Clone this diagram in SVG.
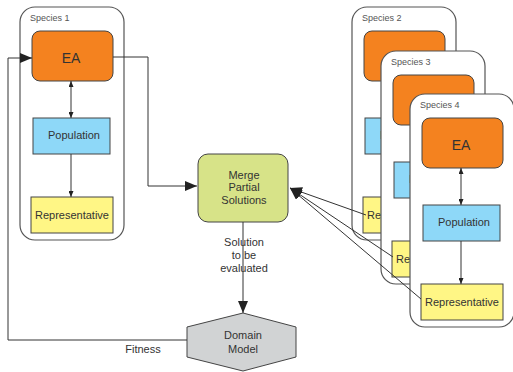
<svg xmlns="http://www.w3.org/2000/svg" width="513" height="372" viewBox="0 0 513 372">
<defs>
<style>
text{font-family:"Liberation Sans",Arial,sans-serif;fill:#333;text-anchor:middle}
.sp{fill:#fff;stroke:#555;stroke-width:1.2}
.ea{fill:#F4821F;stroke:#444;stroke-width:1}
.pop{fill:#8ED8F8;stroke:#444;stroke-width:1}
.rep{fill:#FFF685;stroke:#444;stroke-width:1}
.lbl{font-size:9px;text-anchor:start;fill:#555}
.ln{fill:none;stroke:#333;stroke-width:1}
.t11{font-size:11px}
</style>
<marker id="big" viewBox="0 0 12 10" refX="12" refY="5" markerWidth="12" markerHeight="10" markerUnits="userSpaceOnUse" orient="auto"><path d="M0,0L12,5L0,10z" fill="#222"/></marker>
<marker id="sm" viewBox="0 0 6 5" refX="6" refY="2.5" markerWidth="6" markerHeight="5" markerUnits="userSpaceOnUse" orient="auto-start-reverse"><path d="M0,0L6,2.5L0,5z" fill="#222"/></marker>
<g id="speciesTpl">
<rect class="sp" x="20" y="7" width="104" height="233" rx="15"/>
<rect class="ea" x="32" y="31" width="81" height="50" rx="8"/>
<text x="71" y="63" style="font-size:14px">EA</text>
<line class="ln" x1="71" y1="81" x2="71" y2="118" marker-start="url(#sm)" marker-end="url(#sm)"/>
<rect class="pop" x="33" y="118" width="77" height="36"/>
<text class="t11" x="74" y="139">Population</text>
<line class="ln" x1="71" y1="154" x2="71" y2="197" marker-end="url(#sm)"/>
<rect class="rep" x="31" y="197" width="82" height="36"/>
<text class="t11" x="72" y="219">Representative</text>
</g>
</defs>
<g id="species2" transform="translate(332,0)"><use href="#speciesTpl"/><text class="lbl" x="30" y="21">Species 2</text></g>
<g id="species3" transform="translate(361,44)"><use href="#speciesTpl"/><text class="lbl" x="30" y="21">Species 3</text></g>
<g id="species4" transform="translate(390,87)"><use href="#speciesTpl"/><text class="lbl" x="30" y="21">Species 4</text></g>
<g id="species1"><use href="#speciesTpl"/><text class="lbl" x="30" y="21">Species 1</text></g>
<g id="merge">
<rect x="198" y="154" width="90" height="68" rx="10" fill="#D7E388" stroke="#444" stroke-width="1"/>
<text class="t11" x="244" y="179">Merge</text>
<text class="t11" x="244" y="191">Partial</text>
<text class="t11" x="244" y="204">Solutions</text>
</g>
<g id="domain">
<polygon points="243,313 296,327 296,357 243,371 187,357 187,327" fill="#D1D3D4" stroke="#444" stroke-width="1"/>
<text class="t11" x="243" y="339">Domain</text>
<text class="t11" x="243" y="353">Model</text>
</g>
<g id="connectors">
<polyline class="ln" points="113,57 148,57 148,186 197,186" marker-end="url(#big)"/>
<line class="ln" x1="366" y1="215" x2="290" y2="188" marker-end="url(#big)"/>
<line class="ln" x1="393" y1="257" x2="290" y2="188" marker-end="url(#big)"/>
<line class="ln" x1="421" y1="299" x2="290" y2="188" marker-end="url(#big)"/>
<line class="ln" x1="243" y1="222" x2="243" y2="313" marker-end="url(#big)"/>
<polyline class="ln" points="187,340 8,340 8,58 32,58" marker-end="url(#big)"/>
<text class="t11" x="244" y="246">Solution</text>
<text class="t11" x="244" y="259">to be</text>
<text class="t11" x="244" y="272">evaluated</text>
<text class="t11" x="143" y="353">Fitness</text>
</g>
</svg>
